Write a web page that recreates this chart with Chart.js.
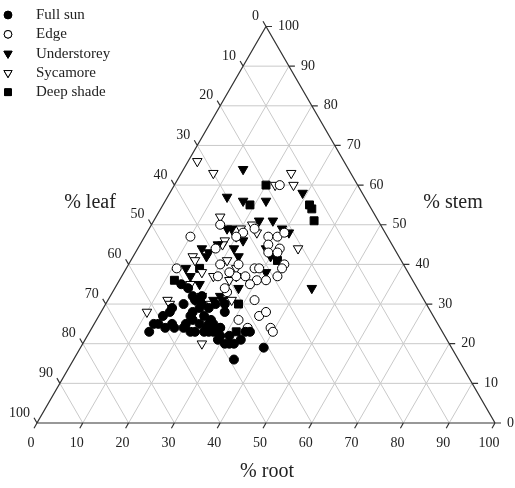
<!DOCTYPE html>
<html>
<head>
<meta charset="utf-8">
<script src="https://cdn.jsdelivr.net/npm/chart.js@4/dist/chart.umd.min.js"></script>
<style>
  html, body { margin: 0; padding: 0; background: #fff; }
  #wrap { width: 515px; height: 488px; }
</style>
</head>
<body>
<div id="wrap"><canvas id="ternary" width="515" height="488"></canvas></div>
<script>
// each point is [root %, stem %]; leaf % = 100 - root - stem
const fullSun = [
  [13,23],[13,25],[14,25],[16,24],[17,25],[20,24],[14,27],[15,28],[15,29],[17,30],
  [20,25],[20,27],[21,26],[23,25],[23,23],[22,23],[25,23],[26,23],[25,25],[25,26],
  [20,28],[21,29],[21,30],[20,32],[19,31],[18,32],[26,25],[28,24],[29,22],[32,20],
  [33,20],[34,21],[34,23],[35,23],[40,19],[35,16],[31,20],[24,30],[26,30],[27,28],
  [14,35],[16,34],[23,29],[27,23],[31,22],[18,24],[28,24],[23,27],[25,24],[29,21]
];
const edge = [
  [10,47],[15,50],[21,48],[23,49],[27,47],[29,47],[30,48],[28,45],[31,44],[17,44],
  [11,39],[20,40],[34,40],[34,39],[34,37],[28,39],[29,39],[24,40],[25,37],[27,37],
  [30,36],[32,36],[23,38],[29,43],[31,43],[25,33],[32,31],[35,27],[36,28],[31,26],
  [34,24],[39,24],[40,23],[29,35],[24,34],[21,37],[20,47],[23,60]
];
const understorey = [
  [13,64],[13,57],[17,56],[22,56],[29,58],[23,51],[26,51],[29,49],[31,48],[18,49],
  [17,49],[22,46],[14,44],[16,42],[20,47],[13,39],[19,31],[20,32],[23,31],[43,34],
  [21,44],[23,42],[28,44],[30,42],[25,37],[27,34],[31,38],[25,31],[24,32],[18,35],
  [15,37],[17,45],[16,43]
];
const sycamore = [
  [2,66],[7,63],[14,52],[18,46],[13,42],[24,63],[26,60],[22,60],[22,50],[24,48],
  [35,44],[20,49],[10,28],[13,31],[14,41],[16,35],[17,38],[21,41],[27,31],[20,37],
  [26,20],[23,30],[24,39],[24,36],[18,45],[14,30]
];
const deepShade = [
  [20,60],[19,55],[32,55],[33,54],[35,51],[12,36],[16,39],[32,41],[29,30],[32,23]
];
const tickValues = [0, 10, 20, 30, 40, 50, 60, 70, 80, 90, 100];
const seriesNames = ['Full sun', 'Edge', 'Understorey', 'Sycamore', 'Deep shade'];

const SQ = Math.sqrt(3) / 2;
const serif = '"Liberation Serif", "Times New Roman", serif';

function toXY(p) {
  return { x: p[0] + p[1] / 2, y: p[1] * SQ };
}

function series(label, pts, style, filled, radius) {
  return {
    label: label,
    data: pts.map(toXY),
    pointStyle: style,
    pointRotation: style === 'triangle' ? 180 : 0,
    pointRadius: radius,
    backgroundColor: filled ? '#000' : '#fff',
    borderColor: '#000',
    borderWidth: 1,
    showLine: false
  };
}

const datasets = [
  series(seriesNames[0], fullSun, 'circle', true, 4.5),
  series(seriesNames[1], edge, 'circle', false, 4.5),
  series(seriesNames[2], understorey, 'triangle', true, 5.5),
  series(seriesNames[3], sycamore, 'triangle', false, 5.5),
  series(seriesNames[4], deepShade, 'rect', true, 5.6)
];

// triangle frame, grid, ticks, labels
const ternaryFrame = {
  id: 'ternaryFrame',
  beforeDatasetsDraw(chart) {
    const { ctx, scales: { x, y } } = chart;
    const P = (r, s) => [x.getPixelForValue(r + s / 2), y.getPixelForValue(s * SQ)];
    const seg = (a, b) => { ctx.moveTo(a[0], a[1]); ctx.lineTo(b[0], b[1]); };

    ctx.save();
    ctx.strokeStyle = '#c9c9c9';
    ctx.lineWidth = 1;
    ctx.beginPath();
    tickValues.slice(1, -1).forEach(v => {
      seg(P(0, v), P(100 - v, v));
      seg(P(v, 0), P(v, 100 - v));
      seg(P(100 - v, 0), P(0, 100 - v));
    });
    ctx.stroke();

    ctx.strokeStyle = '#333';
    ctx.lineWidth = 1.2;
    ctx.beginPath();
    const a = P(0, 0), b = P(100, 0), c = P(0, 100);
    ctx.moveTo(a[0], a[1]); ctx.lineTo(b[0], b[1]); ctx.lineTo(c[0], c[1]); ctx.closePath();
    // ticks
    tickValues.forEach(v => {
      const pb = P(v, 0);
      seg(pb, [pb[0] - 3, pb[1] + 5.2]);
      const pr = P(100 - v, v);
      seg(pr, [pr[0] + 6, pr[1]]);
      const pl = P(0, 100 - v);
      seg(pl, [pl[0] - 3, pl[1] - 5.2]);
    });
    ctx.stroke();

    ctx.fillStyle = '#222';
    ctx.font = '14px ' + serif;
    ctx.textBaseline = 'middle';
    tickValues.forEach(v => {
      const pb = P(v, 0);
      ctx.textAlign = 'center';
      ctx.fillText(String(v), pb[0] - 6, pb[1] + 20);
      const pr = P(100 - v, v);
      ctx.textAlign = 'left';
      ctx.fillText(String(v), pr[0] + 12, pr[1]);
      const pl = P(0, 100 - v);
      ctx.textAlign = 'right';
      ctx.fillText(String(v), pl[0] - 7, pl[1] - 10);
    });

    ctx.font = '20px ' + serif;
    ctx.textAlign = 'center';
    ctx.fillText('% leaf', 90, 203);
    ctx.fillText('% stem', 453, 203);
    ctx.fillText('% root', 267, 472);
    ctx.restore();
  },
  afterDraw(chart) {
    const ctx = chart.ctx;
    ctx.save();
    ctx.font = '15px ' + serif;
    ctx.textAlign = 'left';
    ctx.textBaseline = 'middle';
    chart.data.datasets.forEach((ds, i) => {
      const yy = 15 + i * 19.3;
      Chart.helpers.drawPoint(ctx, {
        pointStyle: ds.pointStyle,
        rotation: ds.pointRotation,
        radius: ds.pointRadius * 0.85,
        borderWidth: 1
      }, 8, yy);
      ctx.fillStyle = ds.backgroundColor;
      ctx.strokeStyle = '#000';
      ctx.fill();
      ctx.stroke();
      ctx.fillStyle = '#222';
      ctx.fillText(ds.label, 36, yy);
    });
    ctx.restore();
  }
};

new Chart(document.getElementById('ternary'), {
  type: 'scatter',
  data: { datasets: datasets },
  options: {
    responsive: false,
    animation: false,
    layout: { padding: { left: 37, right: 20, top: 26.5, bottom: 65 } },
    scales: {
      x: { type: 'linear', min: 0, max: 100, display: false },
      y: { type: 'linear', min: 0, max: 100 * SQ, display: false }
    },
    plugins: {
      legend: { display: false },
      tooltip: { enabled: false }
    }
  },
  plugins: [ternaryFrame]
});
</script>
</body>
</html>
